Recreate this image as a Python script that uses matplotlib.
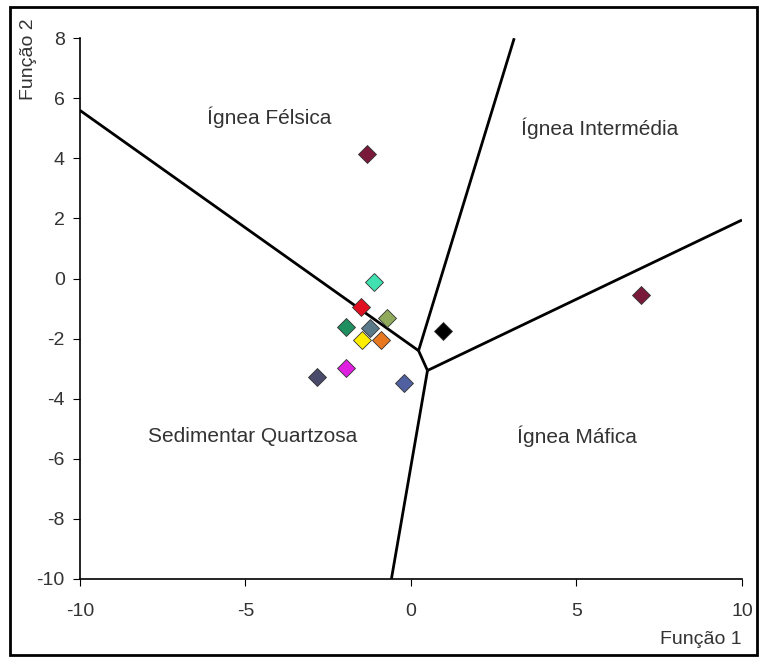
import matplotlib.pyplot as plt
from matplotlib.patches import Rectangle

plt.rcParams['font.family'] = ['Liberation Sans', 'DejaVu Sans']
plt.rcParams['axes.unicode_minus'] = False

# limites entre os campos (funcao discriminante)
lim_x = [[-10, 0.23], [0.23, 3.12], [0.23, 0.5], [0.5, 10], [0.5, -0.59]]
lim_y = [[5.6, -2.4], [-2.4, 8], [-2.4, -3.06], [-3.06, 1.95], [-3.06, -10]]

# amostras
amostra_x = [-1.34, -1.13, -1.52, -0.71, -1.95, -1.25, -0.89, -1.49, -1.95, -2.85, -0.2, 0.98, 6.95]
amostra_y = [4.16, -0.13, -0.96, -1.3, -1.6, -1.66, -2.03, -2.06, -2.99, -3.26, -3.46, -1.73, -0.55]
cores = ['#7a1a3a', '#40e0b0', '#e01020', '#8faa5a', '#1f8f5f', '#5a7a8a', '#e87820',
         '#ffee00', '#e020e0', '#4a4a6a', '#5060a0', '#000000', '#7a1a3a']

campos = ['Ígnea Félsica', 'Ígnea Intermédia', 'Sedimentar Quartzosa', 'Ígnea Máfica']
campo_x = [-4.27, 5.69, -4.78, 5.02]
campo_y = [5.36, 5.02, -5.26, -5.26]

fig = plt.figure(figsize=(7.61, 6.59), dpi=100)
ax = fig.add_axes([0.105, 0.1214, 0.870, 0.8206])

for xs, ys in zip(lim_x, lim_y):
    ax.plot(xs, ys, color='black', lw=2, solid_capstyle='butt')

for xi, yi, c in zip(amostra_x, amostra_y, cores):
    ax.plot(xi, yi, marker='D', ms=9, color=c, mec='#333333', mew=0.6, ls='none')

for t, xi, yi in zip(campos, campo_x, campo_y):
    ax.text(xi, yi, t, ha='center', va='center', fontsize=15, color='#333333')

ax.set_xlim(-10, 10)
ax.set_ylim(-10, 8)
ax.set_xticks([-10, -5, 0, 5, 10])
ax.set_yticks(range(-10, 9, 2))
for s in ['top', 'right']:
    ax.spines[s].set_visible(False)
for s in ['left', 'bottom']:
    ax.spines[s].set_linewidth(1.2)
ax.tick_params(direction='out', length=5, labelsize=14, labelcolor='#333333', pad=6)
ax.tick_params(axis='x', pad=12)

fig.text(0.975, 0.03, 'Função 1', ha='right', va='center', fontsize=14, color='#333333')
fig.text(0.037, 0.91, 'Função 2', ha='center', va='center', rotation=90, fontsize=14, color='#333333')

# moldura externa
fig.patches.append(Rectangle((0.013, 0.006), 0.982, 0.983, transform=fig.transFigure,
                             fill=False, edgecolor='black', lw=2))

plt.savefig('out.png', dpi=100)
